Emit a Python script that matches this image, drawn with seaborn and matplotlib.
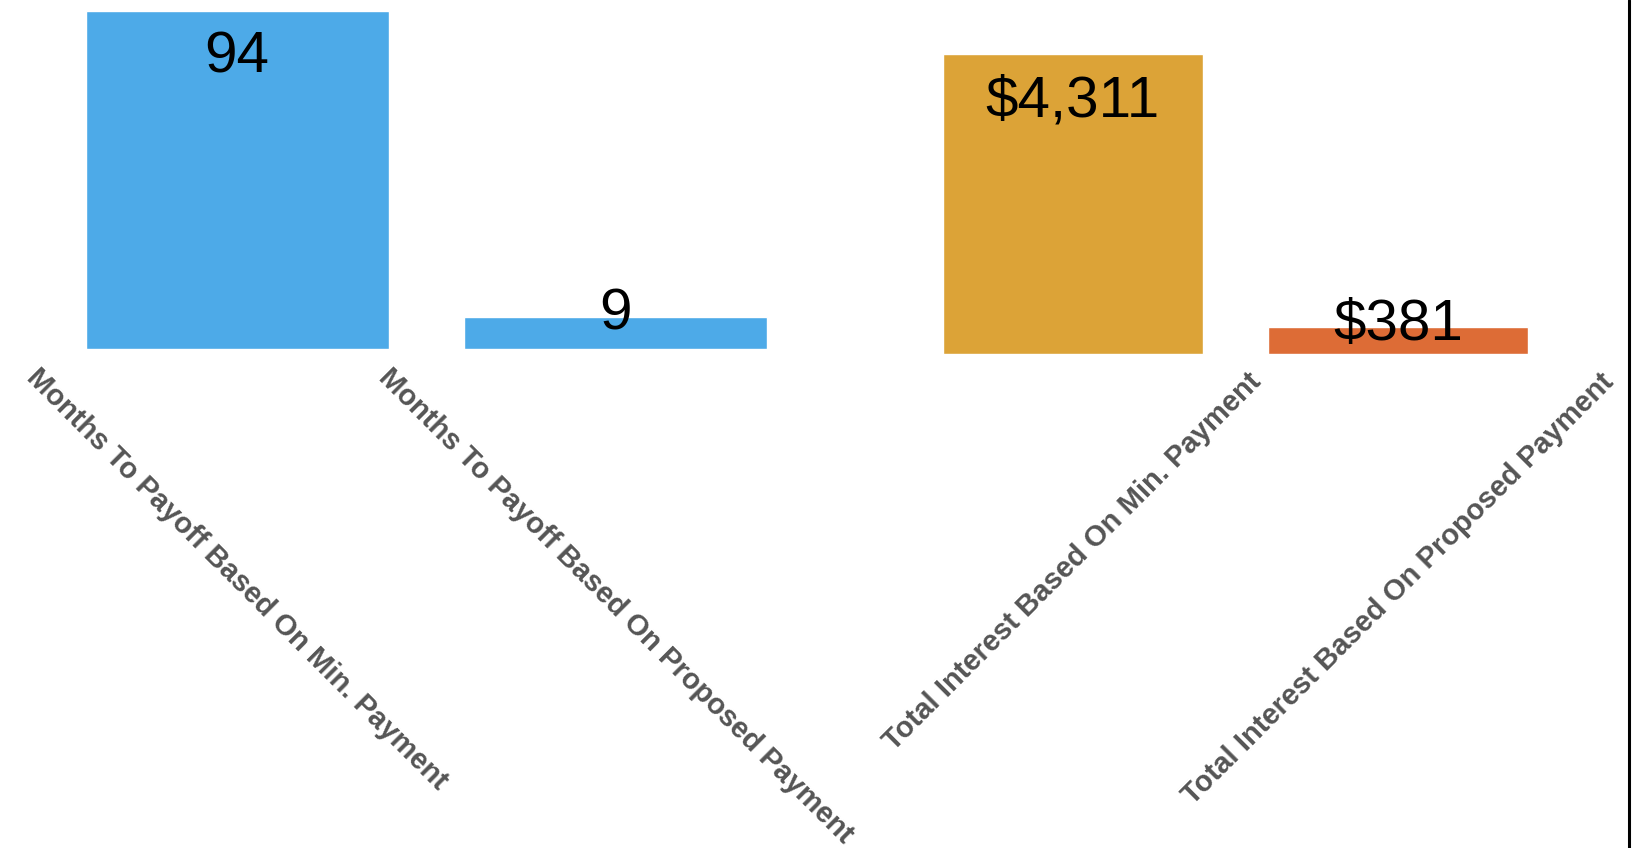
import matplotlib
matplotlib.use("Agg")
import matplotlib.pyplot as plt
from matplotlib.lines import Line2D
import seaborn as sns
import pandas as pd

# data
months_labels = ["Months To Payoff Based On Min. Payment",
                 "Months To Payoff Based On Proposed Payment"]
months_values = [94, 9]
months_text = ["94", "9"]

interest_labels = ["Total Interest Based On Min. Payment",
                   "Total Interest Based On Proposed Payment"]
interest_values = [4311, 381]
interest_text = ["$4,311", "$381"]

months_colors = ["#4DAAE8", "#4DAAE8"]
interest_colors = ["#DCA337", "#DD6C36"]

sns.set_style("white")
plt.rcParams["font.family"] = ["Liberation Sans", "DejaVu Sans"]

fig = plt.figure(figsize=(16.38, 8.48), dpi=100)
ax1 = fig.add_axes([0.0293, 0.5884, 0.4621, 0.3992])
ax2 = fig.add_axes([0.5556, 0.5831, 0.3974, 0.4045])


def draw_pair(ax, labels, values, texts, colors, rot, ymax):
    df = pd.DataFrame({"label": labels, "value": values})
    sns.barplot(data=df, x="label", y="value", hue="label",
                palette=colors, legend=False, width=0.8,
                saturation=1, ax=ax)
    ax.set_ylim(0, ymax)
    ax.set_xlim(-0.5, 1.5)
    for i, (v, t) in enumerate(zip(values, texts)):
        off = -34 if v > 0.5 * max(values) else 1.5
        ax.annotate(t, (i, v), xytext=(0, off), textcoords="offset points",
                    ha="center", va="center", fontsize=42, color="black")
    ax.set_xlabel("")
    ax.set_ylabel("")
    ax.set_yticks([])
    ax.tick_params(axis="x", length=0, pad=10)
    ax.set_xticks(range(len(labels)))
    ax.set_xticklabels(labels, rotation=rot, ha="center", va="top",
                       fontsize=21, fontweight="bold", color="#555555")
    for s in ax.spines.values():
        s.set_visible(False)


draw_pair(ax1, months_labels, months_values, months_text,
          months_colors, -45, 94)
draw_pair(ax2, interest_labels, interest_values, interest_text,
          interest_colors, 45, 4945)

fig.add_artist(Line2D([1629 / 1638] * 2, [0, 1], color="black", lw=2.2,
                      transform=fig.transFigure))

fig.savefig("out.png", dpi=100)
